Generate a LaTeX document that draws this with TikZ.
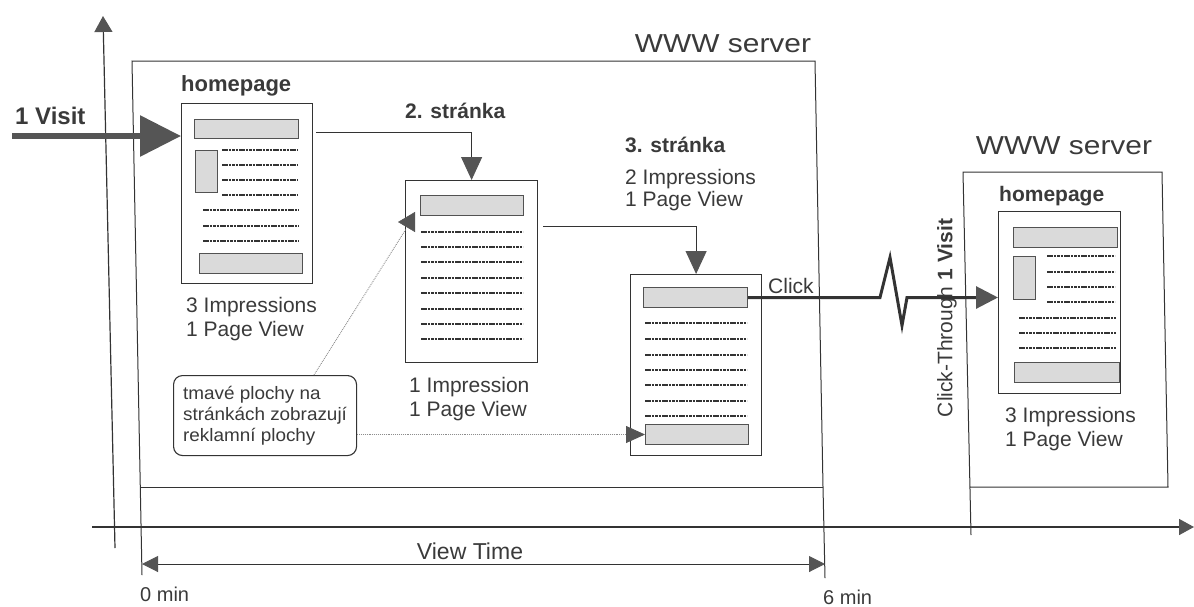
\documentclass[tikz,border=0pt]{standalone}
\usepackage{fontspec}
\setmainfont{Liberation Sans}
\newfontfamily\widefont[FakeStretch=1.15]{Liberation Sans}
\newfontfamily\notefont[FakeStretch=1.05]{Liberation Sans}
\usetikzlibrary{arrows.meta,calc}
\definecolor{ink}{HTML}{333333}
\definecolor{txt}{HTML}{3A3A3A}
\definecolor{barfill}{HTML}{DADADA}
\definecolor{headfill}{HTML}{555555}
\begin{document}
\begin{tikzpicture}[x=1pt,y=-1pt,
  frame/.style={draw=ink, line width=1pt},
  pagebox/.style={draw=ink, line width=1.2pt, fill=white, anchor=north west, inner sep=0pt},
  adbar/.style={draw=ink!85, line width=1pt, fill=barfill, anchor=north west, inner sep=0pt},
  textline/.style={draw=ink, line width=1.6pt, dash pattern=on 2.6pt off 0.8pt},
  lbl/.style={text=txt, inner sep=0pt, font=\fontsize{21}{24}\selectfont, align=left},
  blbl/.style={text=txt, inner sep=0pt, font=\bfseries\fontsize{21}{24}\selectfont},
  widelbl/.style={text=txt, inner sep=0pt, font=\widefont\fontsize{26}{30}\selectfont},
  flow/.style={draw=ink, line width=1pt, -{Triangle[length=23pt,width=21pt,color=headfill]}},
  visitarrow/.style={draw=headfill, line width=6pt, -{Triangle[length=41pt,width=40pt,color=headfill]}},
  clickarrow/.style={draw=ink, line width=3pt, line join=miter, -{Triangle[length=22pt,width=22pt,color=headfill]}},
  noteline/.style={draw=black!45, line width=0.9pt, densely dotted},
  notebox/.style={draw=ink, line width=1.1pt, rounded corners=9pt, fill=white, anchor=north west,
    minimum width=183pt, minimum height=80pt, inner sep=0pt, align=left, text=txt,
    font=\notefont\fontsize{18}{21}\selectfont},
  axisline/.style={draw=ink, line width=1.2pt},
  dimline/.style={draw=ink, line width=1pt, {Triangle[length=16pt,width=16pt,color=headfill]}-{Triangle[length=16pt,width=16pt,color=headfill]}}
]
\useasboundingbox (0,0) rectangle (1194,606);

% ---------- time axes ----------
\coordinate (yb) at (115,548);
\coordinate (yt) at (103,16);
\draw[axisline, -{Triangle[length=16pt,width=18pt,color=headfill]}] (yb) -- (yt);
\coordinate (xl) at (92,527);
\coordinate (xr) at (1194,527);
\draw[axisline, line width=1.6pt, -{Triangle[length=15pt,width=16pt,color=headfill]}] (xl) -- (xr);

% ---------- server frames ----------
\draw[frame] (142,575) -- (132,61) -- (815,61) -- (823,487) -- (825,578);
\draw[frame] (140,487) -- (823,487);
\draw[frame] (971,535) -- (963,172) -- (1162,172) -- (1168,487) -- (970,487);

\node[widelbl] (www1) at (723,44) {WWW server};
\node[widelbl] (www2) at (1064,146) {WWW server};

% ---------- homepage ----------
\node[blbl, anchor=west, font=\bfseries\fontsize{22}{24}\selectfont] (hpl) at (181,86) {homepage};
\node[pagebox, minimum width=131pt, minimum height=180pt] (hp) at (181,103) {};
\node[adbar, minimum width=104pt, minimum height=19pt] (hpb1) at (194,119) {};
\node[adbar, minimum width=22pt, minimum height=42pt] (hpb2) at (195,150) {};
\node[adbar, minimum width=103pt, minimum height=20pt] (hpb3) at (199,253) {};
\foreach \y in {150,165,180,195} \draw[textline] (222,\y) -- (298,\y);
\foreach \y in {210,226,241} \draw[textline] (203,\y) -- (299,\y);
\node[lbl, anchor=west] (hpi) at (186,319) {3 Impressions\\1 Page View};

% ---------- page 2 ----------
\node[blbl, anchor=west] (p2l) at (405,111) {2. str\'anka};
\node[pagebox, minimum width=132pt, minimum height=182pt] (p2) at (405,180) {};
\node[adbar, minimum width=103pt, minimum height=20pt] (p2b) at (420,195) {};
\foreach \y in {232,247,262,278,293,309,324,339} \draw[textline] (421,\y) -- (523,\y);
\node[lbl, anchor=west] (p2i) at (409,399) {1 Impression\\1 Page View};

% ---------- page 3 ----------
\node[blbl, anchor=west] (p3l) at (625,145) {3. str\'anka};
\node[lbl, anchor=west, font=\fontsize{21}{22}\selectfont] (p3i) at (625,190) {2 Impressions\\1 Page View};
\node[pagebox, minimum width=131pt, minimum height=181pt] (p3) at (630,274) {};
\node[adbar, minimum width=104pt, minimum height=20pt] (p3b1) at (643,287) {};
\node[adbar, minimum width=103pt, minimum height=20pt] (p3b2) at (645,424) {};
\foreach \y in {323,339,355,370,385,401,416} \draw[textline] (645,\y) -- (747,\y);

% ---------- second server homepage ----------
\node[blbl, anchor=west] (hp2l) at (999,196) {homepage};
\node[pagebox, minimum width=122pt, minimum height=182pt] (hp2) at (998,211) {};
\node[adbar, minimum width=104pt, minimum height=20pt] (hp2b1) at (1013,227) {};
\node[adbar, minimum width=22pt, minimum height=43pt] (hp2b2) at (1013,256) {};
\node[adbar, minimum width=105pt, minimum height=20pt] (hp2b3) at (1014,362) {};
\foreach \y in {256,272,287,302} \draw[textline] (1047,\y) -- (1115,\y);
\foreach \y in {318,333,348} \draw[textline] (1019,\y) -- (1116,\y);
\node[lbl, anchor=west] (hp2i) at (1005,429) {3 Impressions\\1 Page View};

% ---------- flow connectors ----------
\node[blbl, anchor=west, font=\bfseries\fontsize{24}{26}\selectfont] (visit) at (15,116) {1 Visit};
\coordinate (vstart) at (12,136);
\draw[visitarrow] (vstart) -- (hp.west |- vstart);

\draw[flow] ($(hp.north east)+(3,29)$) -| (p2.north);
\draw[flow] ($(p2.north east)+(5,46)$) -| (p3.north);

\node[lbl, anchor=west] (click) at (768,286) {Click};
\draw[clickarrow] (p3b1.east) -- ++(132,0) -- ++(10,-40) -- ++(12,68) -- ++(5,-28) -- (hp2.west |- p3b1.east);
\node[lbl, rotate=90, font=\fontsize{21}{25}\selectfont] (ct) at (947,318) {Click-Through \textbf{1 Visit}};

% ---------- note ----------
\node[notebox] (note) at (173,375) {tmav\'e plochy na\\str\'ank\'ach zobrazuj\'i\\reklamn\'i plochy};
\coordinate (n2end) at ($(p2.north west)+(1,49)$);
\draw[noteline] ($(note.north west)+(141,0)$) -- (n2end);
\draw[draw=headfill, line width=0.5pt, -{Triangle[length=17pt,width=20pt,color=headfill]}]
  ($(p2.north west)+(-5,42)$) -- ($(p2.north west)+(-7,42)$);
\draw[noteline, -{Triangle[length=19pt,width=17pt,color=headfill]}] (note.east |- p3b2.west) -- (p3b2.west);

% ---------- view time ----------
\coordinate (vt0) at (142,564);
\coordinate (vt6) at (825,564);
\draw[dimline] (vt0) -- (vt6);
\node[lbl, font=\fontsize{23}{25}\selectfont] (vt) at (470,551) {View Time};
\node[lbl, anchor=west, font=\fontsize{20}{22}\selectfont] (m0) at (140,594) {0 min};
\node[lbl, anchor=west, font=\fontsize{20}{22}\selectfont] (m6) at (823,597) {6 min};
\end{tikzpicture}
\end{document}
